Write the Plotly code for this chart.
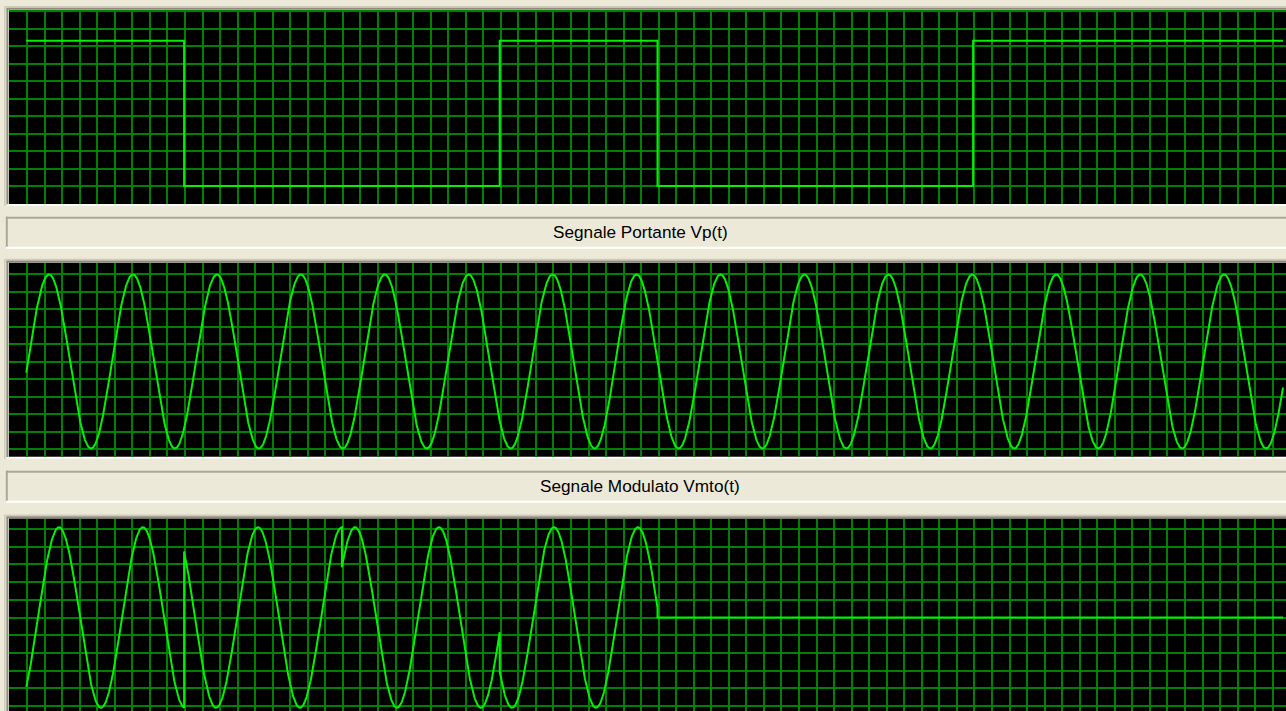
import numpy as np
import plotly.graph_objects as go

# ---------------- data ----------------
# time is measured in bit periods
bit_sequence = [1, 0, 0, 1, 0, 0, 1, 1]
bit_high = 1.0
bit_low = 0.0
record_end = 7.964            # last sample of every trace

carrier_cycles_per_bit = 1.88
carrier_amplitude = 1.0
carrier_phase_deg = -7.4

# modulated signal: one carrier burst per bit, then the output stays at zero
mod_bits = [1, 0, 0, 1]
mod_phase_deg = [-50.2, 176.2, 120.2, -13.3]
mod_amplitude = 1.0
mod_idle_level = 0.0

label_carrier = "Segnale Portante Vp(t)"
label_modulated = "Segnale Modulato Vmto(t)"

# ---------------- traces ----------------
bit_t = list(range(len(bit_sequence))) + [record_end]
bit_v = [bit_high if b else bit_low for b in bit_sequence] + [bit_high if bit_sequence[-1] else bit_low]

t_car = np.linspace(0.0, record_end, 4000)
v_car = carrier_amplitude * np.sin(2 * np.pi * carrier_cycles_per_bit * t_car + np.radians(carrier_phase_deg))

t_mod, v_mod = [], []
for k, ph in enumerate(mod_phase_deg):
    ts = np.linspace(k, k + 1, 500)
    t_mod.extend(ts.tolist())
    v_mod.extend((mod_amplitude * np.sin(2 * np.pi * carrier_cycles_per_bit * ts + np.radians(ph))).tolist())
t_mod.extend([len(mod_phase_deg), record_end])
v_mod.extend([mod_idle_level, mod_idle_level])

# ---------------- layout helpers ----------------
W, H = 1286, 711
BG = "#ECE9D8"
GRID = "#008000"
TRACE = "#00F000"


def fy(p):
    return 1 - p / H


def fx(p):
    return p / W


fig = go.Figure()
fig.add_trace(go.Scatter(x=bit_t, y=bit_v, mode="lines", line=dict(color=TRACE, width=2, shape="hv"),
                         xaxis="x", yaxis="y", hoverinfo="skip"))
fig.add_trace(go.Scatter(x=t_car, y=v_car, mode="lines", line=dict(color=TRACE, width=2),
                         xaxis="x2", yaxis="y2", hoverinfo="skip"))
fig.add_trace(go.Scatter(x=t_mod, y=v_mod, mode="lines", line=dict(color=TRACE, width=2),
                         xaxis="x3", yaxis="y3", hoverinfo="skip"))

# screen geometry of the three scope panels (top, bottom in px)
panels = [(10.0, 204.0), (262.7, 456.7), (518.5, 711.0)]
# zero position (px) and px per unit for each panel, grid pitch in px
vscale = [(186.0, 145.3, 17.48), (361.5, 87.0, 17.5), (617.5, 90.3, 17.67)]

t0_px, bit_px = 26.3, 157.8
x_left, x_right = 9.0, 1286.0
grid_x0_px, grid_x_pitch = 9.6, 17.543

xaxis_common = dict(
    domain=[fx(x_left), 1.0],
    range=[(x_left - t0_px) / bit_px, (x_right - t0_px) / bit_px],
    showticklabels=False, ticks="", zeroline=False, showline=False,
    showgrid=True, gridcolor=GRID, gridwidth=2,
    tick0=(grid_x0_px - t0_px) / bit_px, dtick=grid_x_pitch / bit_px,
    fixedrange=True,
)

layout = dict(
    width=W, height=H, autosize=False,
    margin=dict(l=0, r=0, t=0, b=0, pad=0),
    paper_bgcolor=BG, plot_bgcolor="#000000",
    showlegend=False,
)

for i, ((top, bot), (zero, sc, pitch)) in enumerate(zip(panels, vscale)):
    sfx = "" if i == 0 else str(i + 1)
    layout["xaxis" + sfx] = dict(xaxis_common, anchor="y" + sfx)
    layout["yaxis" + sfx] = dict(
        domain=[fy(bot), fy(top)],
        range=[(zero - bot) / sc, (zero - top) / sc],
        anchor="x" + sfx,
        showticklabels=False, ticks="", zeroline=False, showline=False,
        showgrid=True, gridcolor=GRID, gridwidth=2,
        tick0=0, dtick=pitch / sc, fixedrange=True,
    )

shapes = []


def hline(y, x0, x1, color, w):
    shapes.append(dict(type="line", xref="paper", yref="paper", x0=fx(x0), x1=fx(x1),
                       y0=fy(y), y1=fy(y), line=dict(color=color, width=w)))


def vline(x, y0, y1, color, w):
    shapes.append(dict(type="line", xref="paper", yref="paper", x0=fx(x), x1=fx(x),
                       y0=fy(y0), y1=fy(y1), line=dict(color=color, width=w)))


# sunken frames around the scope panels
for top, bot in panels:
    hline(top - 3.2, 4.5, W + 5, "#CFCBBB", 1.5)
    hline(top - 1.2, 6.5, W + 5, "#8F8C7F", 2)
    vline(4.8, top - 3.5, bot + 2, "#CFCBBB", 1.5)
    vline(7.4, top - 1.5, bot + 1, "#8F8C7F", 2)
    hline(bot + 1.0, 6.5, W + 5, "#FFFFFF", 1.5)

# caption bars
label_boxes = [(217.7, 247.7, label_carrier), (471.7, 501.7, label_modulated)]
annotations = []
for top, bot, text in label_boxes:
    hline(top, 6.0, W + 5, "#ACA899", 2)
    vline(6.8, top - 1, bot, "#ACA899", 2)
    hline(bot, 6.0, W + 5, "#FFFFFF", 2)
    annotations.append(dict(
        text=text, xref="paper", yref="paper", x=fx(640), y=fy((top + bot) / 2 - 0.5),
        xanchor="center", yanchor="middle", showarrow=False,
        font=dict(family="Liberation Sans, Arial, sans-serif", size=17.2, color="#000000"),
    ))

layout["shapes"] = shapes
layout["annotations"] = annotations
fig.update_layout(**layout)

fig.write_html("out.html", config={"displayModeBar": False})
